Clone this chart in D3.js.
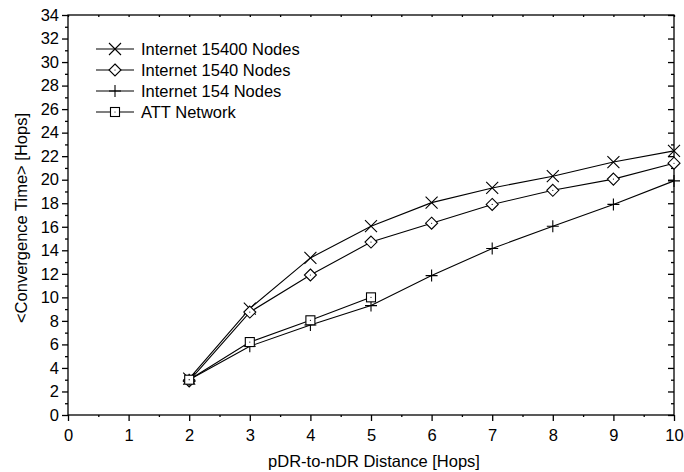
<!DOCTYPE html>
<html><head><meta charset="utf-8">
<script src="https://cdn.jsdelivr.net/npm/d3@7"></script>
<style>body{margin:0;background:#fff}text{font-family:"Liberation Sans",Arial,sans-serif;fill:#000}</style>
</head><body>
<svg id="c" width="684" height="472"></svg>
<script>
const xInternet = [2,3,4,5,6,7,8,9,10];
const internet15400 = [3.1,9.05,13.35,16.05,18.05,19.3,20.3,21.5,22.45];
const internet1540 = [2.9,8.75,11.9,14.7,16.3,17.9,19.1,20.05,21.4];
const internet154 = [3.0,5.85,7.65,9.3,11.85,14.15,16.05,17.9,19.9];
const xATT = [2,3,4,5];
const att = [3.0,6.2,8.05,10.0];
const seriesNames = ["Internet 15400 Nodes","Internet 1540 Nodes","Internet 154 Nodes","ATT Network"];
const xTicks = [0,1,2,3,4,5,6,7,8,9,10];
const yTicks = d3.range(0,35,2);

const svg = d3.select("#c");
const L=68,R=674,T=15,B=415;
const FS="16.5px";
const x = d3.scaleLinear().domain([0,10]).range([L,R]);
const y = d3.scaleLinear().domain([0,34]).range([B,T]);

svg.append("rect").attr("x",L).attr("y",T).attr("width",R-L).attr("height",B-T)
  .attr("fill","none").attr("stroke","#000").attr("stroke-width",1.3);

const gx = svg.append("g").attr("transform",`translate(0,${B})`)
  .call(d3.axisBottom(x).tickValues(xTicks).tickSize(6).tickPadding(8).tickFormat(d3.format("d")));
gx.select(".domain").remove();
gx.selectAll("text").style("font-size",FS);
svg.append("g").attr("transform",`translate(0,${B})`)
  .call(d3.axisBottom(x).tickValues(d3.range(0.5,10,1)).tickSize(2).tickFormat(""))
  .select(".domain").remove();
svg.append("g").attr("transform",`translate(0,${T})`)
  .call(d3.axisBottom(x).tickValues(d3.range(0,10.01,0.5)).tickSize(2).tickFormat(""))
  .select(".domain").remove();

const gy = svg.append("g").attr("transform",`translate(${L},0)`)
  .call(d3.axisLeft(y).tickValues(yTicks).tickSize(6).tickPadding(3).tickFormat(d3.format("d")));
gy.select(".domain").remove();
gy.selectAll("text").style("font-size",FS);
svg.append("g").attr("transform",`translate(${L},0)`)
  .call(d3.axisLeft(y).tickValues(d3.range(1,34,2)).tickSize(3).tickFormat(""))
  .select(".domain").remove();
svg.append("g").attr("transform",`translate(${R},0)`)
  .call(d3.axisLeft(y).tickValues(yTicks).tickSize(6).tickFormat(""))
  .select(".domain").remove();
svg.append("g").attr("transform",`translate(${R},0)`)
  .call(d3.axisLeft(y).tickValues(d3.range(1,34,2)).tickSize(3).tickFormat(""))
  .select(".domain").remove();
svg.selectAll(".tick line").attr("stroke","#000").attr("stroke-width",1.3);

svg.append("text").attr("x",(L+R)/2+3).attr("y",467).attr("text-anchor","middle")
  .style("font-size",FS).text("pDR-to-nDR Distance [Hops]");
svg.append("text").attr("transform",`translate(27,${(T+B)/2+3}) rotate(-90)`).attr("text-anchor","middle")
  .style("font-size",FS).text("<Convergence Time> [Hops]");

function marker(g, type, cx, cy){
  const s=6;
  if(type==="x"){
    g.append("path").attr("d",`M${cx-s},${cy-s}L${cx+s},${cy+s}M${cx-s},${cy+s}L${cx+s},${cy-s}`)
      .attr("stroke","#000").attr("stroke-width",1.1).attr("fill","none");
  } else if(type==="d"){
    g.append("path").attr("d",`M${cx},${cy-s}L${cx+s},${cy}L${cx},${cy+s}L${cx-s},${cy}Z`)
      .attr("stroke","#000").attr("stroke-width",1.1).attr("fill","#fff");
    g.append("circle").attr("cx",cx).attr("cy",cy).attr("r",0.6).attr("fill","#000");
  } else if(type==="p"){
    g.append("path").attr("d",`M${cx-s},${cy}L${cx+s},${cy}M${cx},${cy-s}L${cx},${cy+s}`)
      .attr("stroke","#000").attr("stroke-width",1.1).attr("fill","none");
  } else {
    const h=4.5;
    g.append("rect").attr("x",cx-h).attr("y",cy-h).attr("width",2*h).attr("height",2*h)
      .attr("stroke","#000").attr("stroke-width",1.1).attr("fill","#fff");
    g.append("circle").attr("cx",cx).attr("cy",cy).attr("r",0.6).attr("fill","#000");
  }
}
const series = [
  {xs:xInternet, ys:internet15400, m:"x"},
  {xs:xInternet, ys:internet1540, m:"d"},
  {xs:xInternet, ys:internet154, m:"p"},
  {xs:xATT, ys:att, m:"s"}
];
const line = d3.line().x(d=>x(d[0])).y(d=>y(d[1]));
const plot = svg.append("g");
series.forEach(s=>{
  const pts = s.xs.map((v,i)=>[v,s.ys[i]]);
  plot.append("path").datum(pts).attr("d",line).attr("fill","none").attr("stroke","#000").attr("stroke-width",1.1);
});
series.forEach(s=>{
  s.xs.forEach((v,i)=>marker(plot, s.m, x(v), y(s.ys[i])));
});

const lg = svg.append("g");
const rowY = [49,70,91,112];
seriesNames.forEach((n,i)=>{
  lg.append("line").attr("x1",96).attr("x2",134).attr("y1",rowY[i]).attr("y2",rowY[i]).attr("stroke","#000").attr("stroke-width",1.1);
  marker(lg, series[i].m, 115, rowY[i]);
  lg.append("text").attr("x",141).attr("y",rowY[i]+6).style("font-size",FS).text(n);
});
</script>
</body></html>
